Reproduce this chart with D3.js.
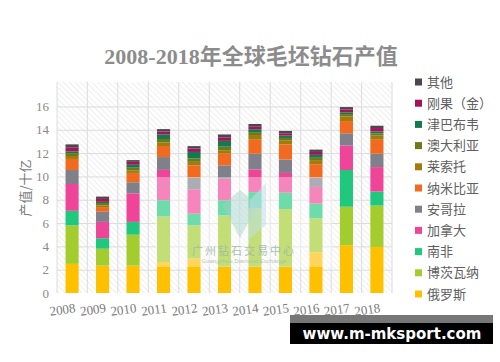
<!DOCTYPE html>
<html>
<head>
<meta charset="utf-8">
<script src="https://cdn.jsdelivr.net/npm/d3@7"></script>
<style>
  body { margin: 0; background: #fff; }
  .grid line { stroke: #dcdcdc; stroke-width: 1; }
  .grid path { display: none; }
</style>
</head>
<body>
<div id="vis"></div>
<script>

// years + totals written above the bars
var years = ["2008", "2009", "2010", "2011", "2012", "2013", "2014", "2015", "2016", "2017", "2018"];
var totalLabels = ["12.7", "8.3", "11.4", "14.1", "12.6", "13.6", "14.5", "13.9", "12.3", "15.9", "14.47"];
var yTicks = [0, 2, 4, 6, 8, 10, 12, 14, 16];

// series, bottom of stack first
var countries = ["俄罗斯", "博茨瓦纳", "南非", "加拿大", "安哥拉", "纳米比亚", "莱索托", "澳大利亚", "津巴布韦", "刚果（金）", "其他"];
var colors = ["#ffc000", "#a3cc2e", "#1fc87d", "#ef4599", "#80808a", "#f26a1f", "#a27b0a", "#6d7a1c", "#137a4f", "#a3145a", "#4d474d"];

var russia    = [2.5, 2.35, 2.35, 2.66, 2.95, 2.25, 2.25, 2.25, 3.5, 4.1, 3.95];
var botswana  = [3.3, 1.45, 2.65, 3.9, 2.85, 4.4, 5.0, 4.95, 2.9, 3.3, 3.55];
var southAfr  = [1.25, 0.9, 1.1, 1.4, 1.0, 1.3, 1.4, 1.4, 1.27, 3.15, 1.2];
var canada    = [2.3, 1.4, 2.45, 2.6, 2.1, 1.85, 1.95, 1.7, 1.43, 2.1, 2.1];
var angola    = [1.2, 0.87, 0.95, 1.1, 1.0, 1.15, 1.35, 1.15, 0.8, 1.05, 1.15];
var namibia   = [0.95, 0.4, 0.8, 0.95, 1.05, 1.0, 1.2, 1.3, 1.15, 1.05, 1.2];
var lesotho   = [0.25, 0.15, 0.2, 0.3, 0.3, 0.3, 0.4, 0.35, 0.35, 0.4, 0.35];
var australia = [0.25, 0.2, 0.25, 0.3, 0.3, 0.3, 0.25, 0.2, 0.2, 0.2, 0.2];
var zimbabwe  = [0.15, 0.1, 0.25, 0.4, 0.55, 0.5, 0.25, 0.2, 0.25, 0.15, 0.15];
var drc       = [0.35, 0.25, 0.25, 0.25, 0.3, 0.3, 0.25, 0.2, 0.25, 0.25, 0.3];
var other     = [0.25, 0.2, 0.15, 0.2, 0.2, 0.25, 0.2, 0.2, 0.2, 0.2, 0.2];

var series = [russia, botswana, southAfr, canada, angola, namibia, lesotho, australia, zimbabwe, drc, other];

var width = 500;
var height = 362;
var margin = {top: 82, right: 108, bottom: 69, left: 57};
var serif = "'Liberation Serif', 'DejaVu Serif', serif";
var cjk = "'Noto Sans CJK SC', 'Noto Sans', sans-serif";

var svg = d3.select("#vis")
  .append("svg")
    .attr("width", width)
    .attr("height", height);

var defs = svg.append("defs");
var hatch = defs.append("pattern")
    .attr("id", "hatch")
    .attr("patternUnits", "userSpaceOnUse")
    .attr("width", 4)
    .attr("height", 4)
    .attr("patternTransform", "rotate(-45)");
hatch.append("line")
    .attr("x1", 0).attr("y1", 0).attr("x2", 0).attr("y2", 4)
    .attr("stroke", "#e2e2e2")
    .attr("stroke-width", 1.2);

var w = width - margin.left - margin.right;
var h = height - margin.top - margin.bottom;

var chart = svg.append("g").attr("transform", "translate(" + margin.left + "," + margin.top + ")");

var x = d3.scaleBand()
    .domain(years)
    .range([0, w])
    .paddingInner(0.57)
    .paddingOuter(0.28);

var y = d3.scaleLinear()
    .domain([0, 18.1])
    .range([h, 0]);

// table for the stack
var table = years.map(function(yr, i) {
  var row = {year: yr};
  countries.forEach(function(c, j) { row[c] = series[j][i]; });
  return row;
});
var stacked = d3.stack().keys(countries)(table);

// background hatch
chart.append("rect")
    .attr("width", w)
    .attr("height", h)
    .attr("fill", "url(#hatch)");

// horizontal gridlines
chart.append("g")
    .attr("class", "grid")
    .call(d3.axisLeft(y)
      .tickValues(yTicks.slice(1))
      .tickSize(-w)
      .tickFormat(""));

// vertical gridlines between the years
var step = x.step();
var vLines = d3.range(0, years.length + 1).map(function(i) {
  return i === 0 ? 0 : (i === years.length ? w : x(years[i - 1]) + x.bandwidth() + (step - x.bandwidth()) / 2);
});
chart.append("g").selectAll("line")
    .data(vLines)
  .enter().append("line")
    .attr("x1", function(d) { return d; })
    .attr("x2", function(d) { return d; })
    .attr("y1", 0)
    .attr("y2", h)
    .attr("stroke", "#dcdcdc");

// bars
chart.append("g").selectAll("g")
    .data(stacked)
  .enter().append("g")
    .attr("fill", function(d, i) { return colors[i]; })
  .selectAll("rect")
    .data(function(d) { return d; })
  .enter().append("rect")
    .attr("x", function(d) { return x(d.data.year); })
    .attr("y", function(d) { return y(d[1]); })
    .attr("height", function(d) { return y(d[0]) - y(d[1]); })
    .attr("width", x.bandwidth());

// totals above bars
var top = stacked[stacked.length - 1];
chart.append("g").selectAll("text")
    .data(top)
  .enter().append("text")
    .attr("x", function(d) { return x(d.data.year) + x.bandwidth() / 2; })
    .attr("y", function(d) { return y(d[1]) - 6; })
    .attr("text-anchor", "middle")
    .style("font-family", serif)
    .style("font-size", "13.5px")
    .style("fill", "#6b6b6b")
    .text(function(d, i) { return totalLabels[i]; });

// y tick labels
chart.append("g").selectAll("text")
    .data(yTicks)
  .enter().append("text")
    .attr("x", -8)
    .attr("y", function(d) { return y(d); })
    .attr("dy", "0.35em")
    .attr("text-anchor", "end")
    .style("font-family", serif)
    .style("font-size", "13px")
    .style("fill", "#8a8a8a")
    .text(function(d) { return d; });

// x labels, tilted a little
chart.append("g").selectAll("text")
    .data(years)
  .enter().append("text")
    .attr("transform", function(d) {
      return "translate(" + (x(d) + x.bandwidth() / 2 - 9) + "," + (h + 21) + ") rotate(-8)";
    })
    .attr("text-anchor", "middle")
    .style("font-family", serif)
    .style("font-size", "13px")
    .style("fill", "#7a7a7a")
    .text(function(d) { return d; });

// y axis title
svg.append("text")
    .attr("transform", "translate(30,188) rotate(-90)")
    .attr("text-anchor", "middle")
    .style("font-family", cjk)
    .style("font-size", "13px")
    .style("fill", "#7a7a7a")
    .text("产值/十亿");

// chart title
svg.append("text")
    .attr("x", 251)
    .attr("y", 64)
    .attr("text-anchor", "middle")
    .style("font-family", serif + ", " + cjk)
    .style("font-weight", "bold")
    .style("font-size", "22px")
    .style("fill", "#8c8c8c")
    .text("2008-2018年全球毛坯钻石产值");

// legend, top item is the last series
var legend = svg.append("g").selectAll("g")
    .data(countries.slice().reverse())
  .enter().append("g")
    .attr("transform", function(d, i) { return "translate(415," + (82 + i * 21.2) + ")"; });
legend.append("rect")
    .attr("x", 0)
    .attr("y", -3.5)
    .attr("width", 7)
    .attr("height", 7)
    .attr("fill", function(d) { return colors[countries.indexOf(d)]; });
legend.append("text")
    .attr("x", 12)
    .attr("dy", "0.35em")
    .style("font-family", cjk)
    .style("font-size", "13px")
    .style("fill", "#606060")
    .text(function(d) { return d; });

// watermark
var wm = svg.append("g");
wm.append("rect")
    .attr("x", 155).attr("y", 177)
    .attr("width", 177).attr("height", 90)
    .attr("fill", "#fff")
    .attr("opacity", 0.35);
wm.append("polygon")
    .attr("points", "222,205 240,190 258,205 240,238")
    .attr("fill", "#9fd0c8")
    .attr("opacity", 0.45);
wm.append("polygon")
    .attr("points", "250,200 266,183 266,225 248,240")
    .attr("fill", "#bfe0ea")
    .attr("opacity", 0.55);
wm.append("text")
    .attr("x", 244).attr("y", 255)
    .attr("text-anchor", "middle")
    .style("font-family", cjk)
    .style("font-size", "11px")
    .style("letter-spacing", "2px")
    .style("fill", "#9fb7a8")
    .style("opacity", 0.85)
    .text("广州钻石交易中心");
wm.append("text")
    .attr("x", 244).attr("y", 263)
    .attr("text-anchor", "middle")
    .style("font-family", "'Liberation Sans', sans-serif")
    .style("font-size", "6px")
    .style("fill", "#a9bcb0")
    .style("opacity", 0.85)
    .text("Guangzhou Diamond Exchange");

// site banner bottom right
svg.append("rect")
    .attr("x", 290).attr("y", 315)
    .attr("width", 203).attr("height", 9)
    .attr("fill", "#777");
svg.append("rect")
    .attr("x", 290).attr("y", 323)
    .attr("width", 203).attr("height", 21)
    .attr("fill", "#000");
svg.append("text")
    .attr("x", 392).attr("y", 339)
    .attr("text-anchor", "middle")
    .style("font-family", "'DejaVu Sans', sans-serif")
    .style("font-weight", "bold")
    .style("font-size", "15px")
    .style("fill", "#fff")
    .text("www.m-mksport.com");

</script>
</body>
</html>
